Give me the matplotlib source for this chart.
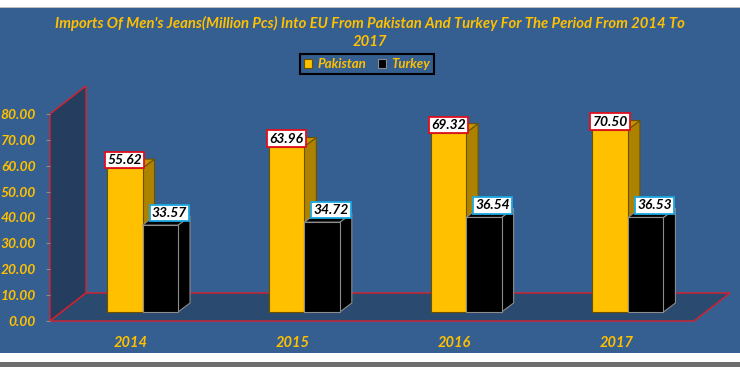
#IMPORT LIBRARIES
import numpy as np
import matplotlib.pyplot as plt
from matplotlib.patches import Polygon, Rectangle

#DATA
years = ["2014", "2015", "2016", "2017"]
pakistan = [55.62, 63.96, 69.32, 70.50]
turkey = [33.57, 34.72, 36.54, 36.53]
yticks = [0, 10, 20, 30, 40, 50, 60, 70, 80]

#COLOURS
BG = "#355E91"
GOLD = "#FFC000"
RED = "#D9202B"

plt.rcParams['font.family'] = ['Lato', 'DejaVu Sans']

#FIGURE 740x367 PX
W, H = 740, 367
fig = plt.figure(figsize=(W/100, H/100), dpi=100, facecolor="white")

#BACKGROUND PANEL AND BORDERS
fig.patches.append(Rectangle((0, 14/H), 1, 345/H, transform=fig.transFigure, facecolor=BG, edgecolor="none", zorder=-5))
fig.patches.append(Rectangle((0, 359/H), 1, 1.2/H, transform=fig.transFigure, facecolor="#BDBDBD", edgecolor="none", zorder=-5))
fig.patches.append(Rectangle((0, 0), 1, 5/H, transform=fig.transFigure, facecolor="#6E6E6E", edgecolor="none", zorder=-5))

#AXES = FRONT PLANE OF THE 3D BOX
x0, x1 = -0.5, 3.48
ax = fig.add_axes([50/W, (H-321)/H, (694-50)/W, (321-114)/H])
ax.set_xlim(x0, x1)
ax.set_ylim(0, 80)
ax.patch.set_visible(False)
for s in ax.spines.values():
    s.set_visible(False)

#PIXEL -> DATA UNIT HELPER
PX_X = (694-50)/(x1-x0)
PX_Y = (321-114)/80
def off(px, py):
    return px/PX_X, py/PX_Y

#SIDE WALL AND FLOOR
wx, wy = off(36, 28)
wall = Polygon([(x0, 0), (x0, 80), (x0+wx, 80+wy), (x0+wx, wy)], closed=True,
               facecolor="#253E5F", edgecolor=RED, lw=1, clip_on=False, zorder=1)
floor = Polygon([(x0, 0), (x1, 0), (x1+wx, wy), (x0+wx, wy)], closed=True,
                facecolor="#2B4A70", edgecolor=RED, lw=1, clip_on=False, zorder=1)
ax.add_patch(wall)
ax.add_patch(floor)

#BARS WITH 3D SIDES
sx, sy = off(11.6, 9)
dx, dy = off(12, 9)
bw = 35.5/PX_X
x = np.arange(len(years))

def bar3d(xl, vals, front, side, top, edge, z, label):
    bars = ax.bar(xl + sx, vals, width=bw, bottom=sy, align="edge", color=front,
                  edgecolor=edge, lw=0.8, zorder=z+1, label=label, clip_on=False)
    for a, v in zip(xl + sx, vals):
        b = a + bw
        ax.add_patch(Polygon([(b, sy), (b+dx, sy+dy), (b+dx, sy+v+dy), (b, sy+v)], closed=True,
                             facecolor=side, edgecolor=edge, lw=0.8, zorder=z, clip_on=False))
        ax.add_patch(Polygon([(a, sy+v), (b, sy+v), (b+dx, sy+v+dy), (a+dx, sy+v+dy)], closed=True,
                             facecolor=top, edgecolor=edge, lw=0.8, zorder=z, clip_on=False))
    return bars

b1 = bar3d(x - bw, pakistan, GOLD, "#AD8200", "#C39400", "#6B5200", 3, "Pakistan")
b2 = bar3d(x, turkey, "black", "black", "black", "#8C8C8C", 6, "Turkey")

#VALUE LABELS
for i, v in enumerate(pakistan):
    ax.annotate(f"{v:.2f}", (x[i] - bw/2 + sx, sy + v), xytext=(0, 2), textcoords="offset pixels",
                ha="center", va="bottom", fontsize=10, fontweight="bold", fontstyle="italic", color="black",
                bbox=dict(boxstyle="square,pad=0.15", facecolor="white", edgecolor="#E0101E", lw=1.3), zorder=10)
for i, v in enumerate(turkey):
    ax.annotate(f"{v:.2f}", (x[i] + bw/2 + sx, sy + v), xytext=(9, 6), textcoords="offset pixels",
                ha="center", va="bottom", fontsize=10, fontweight="bold", fontstyle="italic", color="black",
                bbox=dict(boxstyle="square,pad=0.15", facecolor="white", edgecolor="#1BA8E0", lw=1.3), zorder=10)

#AXIS TICKS AND LABELS
ax.set_yticks(yticks)
ax.set_yticklabels([f"{t:.2f}" for t in yticks])
ax.set_xticks(x)
ax.set_xticklabels(years)
ax.tick_params(axis="y", length=3, color="#8C8C8C", pad=7, labelsize=10, labelcolor=GOLD)
ax.tick_params(axis="x", length=0, pad=11, labelsize=10.5, labelcolor=GOLD)
for t in ax.get_xticklabels() + ax.get_yticklabels():
    t.set_fontweight("bold")
    t.set_fontstyle("italic")

#TITLE AND LEGEND
fig.text(0.5, 1 - 32.5/H, "Imports Of Men's Jeans(Million Pcs) Into EU From Pakistan And Turkey For The Period From 2014 To\n2017",
         ha="center", va="center", fontsize=10.7, fontweight="bold", fontstyle="italic", color=GOLD, linespacing=1.35)
leg = fig.legend(handles=[b1, b2], loc="center", bbox_to_anchor=(367/W, 1 - 64/H), ncol=2,
                 frameon=True, fancybox=False, facecolor=BG, edgecolor="black", framealpha=1,
                 handlelength=0.6, handleheight=0.6, handletextpad=0.4, columnspacing=0.9,
                 borderpad=0.3, prop=dict(size=9.5, weight="bold", style="italic"))
leg.get_frame().set_linewidth(1.5)
for t in leg.get_texts():
    t.set_color(GOLD)

fig.savefig("out.png", dpi=100)
